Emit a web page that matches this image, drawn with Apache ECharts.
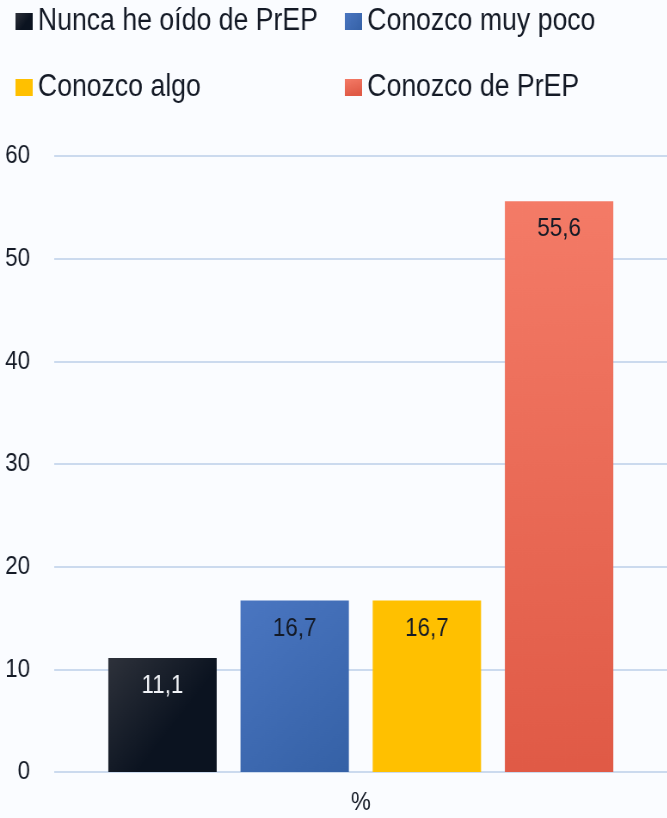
<!DOCTYPE html>
<html>
<head>
<meta charset="utf-8">
<script src="https://cdn.jsdelivr.net/npm/echarts@6/dist/echarts.min.js"></script>
<style>
  html, body { margin: 0; padding: 0; background: #fafcff; overflow: hidden; }
  /* condensed typeface look: lay out wider, then squeeze horizontally */
  #chart { width: 776px; height: 818px; transform: scaleX(0.86); transform-origin: 0 0; }
</style>
</head>
<body>
<div id="chart"></div>
<script>
// Awareness of PrEP, percentages per answer
const categories = ['%'];
const seriesNames = ['Nunca he oído de PrEP', 'Conozco muy poco', 'Conozco algo', 'Conozco de PrEP'];
const nunca = [11.1];
const muyPoco = [16.7];
const algo = [16.7];
const conozco = [55.6];
const yTicks = { min: 0, max: 60, interval: 10 };

const FONT = '"Liberation Sans", Arial, sans-serif';
const TEXT = '#141a26';

function grad(c1, c2, x2, y2) {
  return new echarts.graphic.LinearGradient(0, 0, x2, y2, [
    { offset: 0, color: c1 }, { offset: 1, color: c2 }
  ]);
}

const styles = [
  { color: grad('#2e323b', '#0b1320', 0.6, 0.6), label: '#f2f4f8' },
  { color: grad('#4a76c1', '#3561a6', 1, 1), label: TEXT },
  { color: '#ffc000', label: TEXT },
  { color: grad('#f47b67', '#e05a46', 0.2, 1), label: TEXT }
];
const values = [nunca, muyPoco, algo, conozco];

const legendPos = [
  { left: 13, top: 1 },
  { left: 396, top: 1 },
  { left: 13, top: 67 },
  { left: 396, top: 67 }
];

const chart = echarts.init(document.getElementById('chart'), null, { renderer: 'canvas' });
chart.setOption({
  backgroundColor: '#fafcff',
  animation: false,
  textStyle: { fontFamily: FONT },
  legend: seriesNames.map((n, i) => ({
    data: [n],
    left: legendPos[i].left,
    top: legendPos[i].top,
    icon: 'rect',
    itemWidth: 20,
    itemHeight: 17,
    itemGap: 6,
    textStyle: { fontFamily: FONT, fontSize: 31, color: TEXT, padding: [0, 0, 0, 1] }
  })),
  grid: { left: 63, right: 0, top: 156, bottom: 46, containLabel: false },
  xAxis: {
    type: 'category',
    data: categories,
    axisLine: { show: false },
    axisTick: { show: false },
    axisLabel: { fontFamily: FONT, fontSize: 26, color: TEXT, margin: 18 }
  },
  yAxis: {
    type: 'value',
    min: yTicks.min,
    max: yTicks.max,
    interval: yTicks.interval,
    axisLine: { show: false },
    axisTick: { show: false },
    axisLabel: { fontFamily: FONT, fontSize: 26, color: TEXT, margin: 28 },
    splitLine: { lineStyle: { color: '#cbdaee', width: 2 } }
  },
  series: seriesNames.map((n, i) => ({
    name: n,
    type: 'bar',
    data: values[i],
    barWidth: 126,
    barGap: '22%',
    itemStyle: { color: styles[i].color },
    label: {
      show: true,
      position: 'insideTop',
      distance: 15,
      fontFamily: FONT,
      fontSize: 26,
      color: styles[i].label,
      formatter: p => String(p.value).replace('.', ',')
    }
  }))
});
</script>
</body>
</html>
